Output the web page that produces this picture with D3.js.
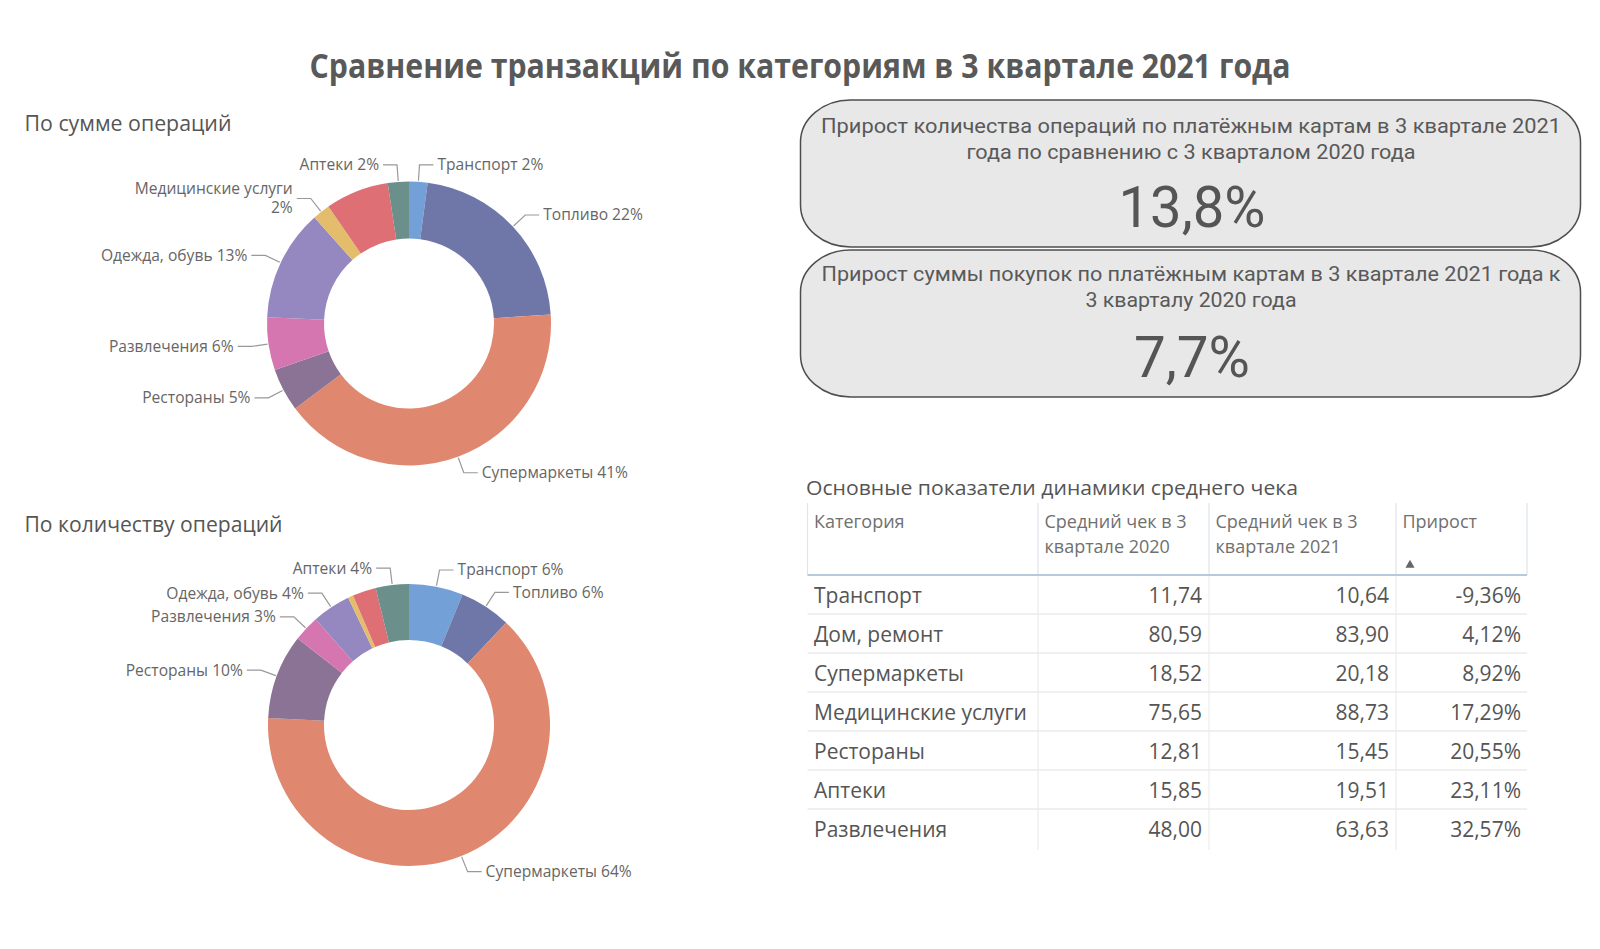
<!DOCTYPE html>
<html>
<head>
<meta charset="utf-8">
<script src="https://cdn.jsdelivr.net/npm/d3@7"></script>
<style>
  html, body { margin: 0; padding: 0; background: #fff; }
  svg { display: block; }
</style>
</head>
<body>
<svg id="chart" width="1600" height="949"></svg>
<script>
// ---------------- DATA ----------------
const chartTitle = "Сравнение транзакций по категориям в 3 квартале 2021 года";
const donutTitles = ["По сумме операций", "По количеству операций"];

const categories = ["Транспорт", "Топливо", "Супермаркеты", "Рестораны", "Развлечения",
                    "Одежда, обувь", "Медицинские услуги", "Дом, ремонт", "Аптеки"];
const sumShare   = [2.1, 21.9, 40.8, 4.9, 6.0, 12.7, 2.0, 7.2, 2.4];
const countShare = [6.2, 5.9, 63.7, 9.7, 3.0, 4.4, 0.6, 2.7, 3.8];
const sumLabelShown   = [true, true, true, true, true, true, true, false, true];
const countLabelShown = [true, true, true, true, true, true, false, false, true];
const categoryColors = ["#72a0d7", "#6f77a8", "#df886f", "#8a7394", "#d676b0",
                        "#9587bf", "#e3bd6c", "#dd6f75", "#6b8f8b"];

const kpiTitles = [
  ["Прирост количества операций по платёжным картам в 3 квартале 2021", "года по сравнению с 3 кварталом 2020 года"],
  ["Прирост суммы покупок по платёжным картам в 3 квартале 2021 года к", "3 кварталу 2020 года"]
];
const kpiValues = [13.8, 7.7];

const tableTitle = "Основные показатели динамики среднего чека";
const tableHeaders = [["Категория"], ["Средний чек в 3", "квартале 2020"], ["Средний чек в 3", "квартале 2021"], ["Прирост"]];
const tableCategories = ["Транспорт", "Дом, ремонт", "Супермаркеты", "Медицинские услуги", "Рестораны", "Аптеки", "Развлечения"];
const avgCheck2020 = [11.74, 80.59, 18.52, 75.65, 12.81, 15.85, 48.00];
const avgCheck2021 = [10.64, 83.90, 20.18, 88.73, 15.45, 19.51, 63.63];
const avgGrowth    = [-9.36, 4.12, 8.92, 17.29, 20.55, 23.11, 32.57];

// ---------------- HELPERS ----------------
const svg = d3.select("#chart");
const comma = (v, n) => v.toFixed(n).replace(".", ",");
function fit(sel, w) { sel.attr("textLength", w).attr("lengthAdjust", "spacingAndGlyphs"); return sel; }

svg.append("rect").attr("width", 1600).attr("height", 949).attr("fill", "#fff");

// ---------------- TITLE ----------------
fit(svg.append("text")
  .attr("x", 800).attr("y", 78)
  .attr("text-anchor", "middle")
  .attr("font-family", "Open Sans").attr("font-weight", 700).attr("font-size", 34)
  .attr("fill", "#595959")
  .text(chartTitle), 981);

// ---------------- DONUTS ----------------
const donuts = [
  { title: donutTitles[0], values: sumShare, shown: sumLabelShown, cx: 409, cy: 323.5, R: 142, r: 85, ty: 131, tw: 207 },
  { title: donutTitles[1], values: countShare, shown: countLabelShown, cx: 409, cy: 725, R: 141, r: 85, ty: 532, tw: 258 }
];

donuts.forEach(dn => {
  fit(svg.append("text")
    .attr("x", 24.5).attr("y", dn.ty)
    .attr("font-family", "Open Sans").attr("font-size", 21)
    .attr("fill", "#555")
    .text(dn.title), dn.tw);

  const data = categories.map((c, i) => ({ name: c, v: dn.values[i], color: categoryColors[i], shown: dn.shown[i] }));
  const total = d3.sum(data, d => d.v);
  const pie = d3.pie().sort(null).value(d => d.v);
  const arc = d3.arc().innerRadius(dn.r).outerRadius(dn.R);
  const arcs = pie(data);
  const g = svg.append("g").attr("transform", `translate(${dn.cx},${dn.cy})`);

  g.selectAll("path.slice").data(arcs).join("path")
    .attr("class", "slice")
    .attr("d", arc)
    .attr("fill", d => d.data.color);

  const labelled = arcs.filter(d => d.data.shown);
  labelled.forEach(d => {
    const a = (d.startAngle + d.endAngle) / 2;
    const sx = Math.sin(a), sy = -Math.cos(a);
    const p0 = [sx * (dn.R + 1), sy * (dn.R + 1)];
    const p1 = [sx * (dn.R + 17), sy * (dn.R + 17)];
    const side = sx >= 0 ? 1 : -1;
    const p2 = [p1[0] + side * 14, p1[1]];
    g.append("polyline")
      .attr("points", [p0, p1, p2].map(p => p.join(",")).join(" "))
      .attr("fill", "none").attr("stroke", "#999").attr("stroke-width", 1.2);
    const pct = Math.round(d.data.v / total * 100) + "%";
    const full = d.data.name + " " + pct;
    const t = g.append("text")
      .attr("x", p2[0] + side * 4).attr("y", p2[1])
      .attr("dy", "0.35em")
      .attr("text-anchor", side > 0 ? "start" : "end")
      .attr("font-family", "Open Sans").attr("font-size", 15.6)
      .attr("fill", "#666")
      .text(full);
    if (t.node().getComputedTextLength() > 170) {
      t.text(null);
      t.attr("dy", null);
      t.append("tspan").attr("x", p2[0] + side * 4).attr("y", p2[1] - 9.5).attr("dy", "0.35em").text(d.data.name);
      t.append("tspan").attr("x", p2[0] + side * 4).attr("y", p2[1] + 9.5).attr("dy", "0.35em").text(pct);
    }
  });
});

// ---------------- KPI CARDS ----------------
const cards = [
  { y: 100, h: 147, lines: [133, 159], vy: 227, lw: [740, 449], vw: 147 },
  { y: 250, h: 147, lines: [281, 307], vy: 377, lw: [739, 211], vw: 116 }
];
cards.forEach((c, i) => {
  svg.append("rect")
    .attr("x", 800.5).attr("y", c.y).attr("width", 780).attr("height", c.h)
    .attr("rx", 50).attr("ry", 42)
    .attr("fill", "#e8e8e8").attr("stroke", "#4d4d4d").attr("stroke-width", 1.5);
  kpiTitles[i].forEach((ln, j) => {
    fit(svg.append("text")
      .attr("x", 1191).attr("y", c.lines[j])
      .attr("text-anchor", "middle")
      .attr("font-family", "Roboto").attr("font-size", 20)
      .attr("fill", "#595959")
      .text(ln), c.lw[j]);
  });
  fit(svg.append("text")
    .attr("x", 1192).attr("y", c.vy)
    .attr("text-anchor", "middle")
    .attr("font-family", "Roboto").attr("font-size", 58)
    .attr("fill", "#555")
    .text(comma(kpiValues[i], 1) + "%"), c.vw);
});

// ---------------- TABLE ----------------
fit(svg.append("text")
  .attr("x", 806).attr("y", 495)
  .attr("font-family", "Open Sans").attr("font-size", 20)
  .attr("fill", "#555")
  .text(tableTitle), 492);

const colX = [807.5, 1038, 1209, 1396, 1527];
const headTop = 503, headBottom = 575, rowH = 39, firstBase = 603;
const tg = svg.append("g");

// header vertical lines
colX.forEach(x => {
  tg.append("line").attr("x1", x).attr("x2", x).attr("y1", headTop).attr("y2", headBottom)
    .attr("stroke", "#dde4ec").attr("stroke-width", 1.2);
});
// row vertical lines
colX.slice(1, 4).forEach(x => {
  tg.append("line").attr("x1", x).attr("x2", x).attr("y1", headBottom).attr("y2", headBottom + rowH * tableCategories.length + 2)
    .attr("stroke", "#ececec").attr("stroke-width", 1.2);
});
// header texts
tableHeaders.forEach((hd, i) => {
  const t = tg.append("text")
    .attr("font-family", "Open Sans").attr("font-size", 18).attr("fill", "#707070");
  hd.forEach((ln, j) => {
    t.append("tspan").attr("x", colX[i] + 6.5).attr("y", 528 + j * 25).text(ln);
  });
});
// sort arrow
tg.append("path")
  .attr("d", d3.symbol().type(d3.symbolTriangle).size(36)())
  .attr("transform", `translate(${colX[3] + 14},${565})`)
  .attr("fill", "#666");
// header bottom line
tg.append("line").attr("x1", colX[0]).attr("x2", colX[4]).attr("y1", headBottom).attr("y2", headBottom)
  .attr("stroke", "#b8c9da").attr("stroke-width", 2);

// rows
tableCategories.forEach((cat, i) => {
  const base = firstBase + i * rowH;
  if (i < tableCategories.length - 1) {
    tg.append("line").attr("x1", colX[0]).attr("x2", colX[4])
      .attr("y1", base + 11).attr("y2", base + 11)
      .attr("stroke", "#ebebeb").attr("stroke-width", 1.5);
  }
  const cells = [
    { text: cat, x: colX[0] + 6.5, anchor: "start" },
    { text: comma(avgCheck2020[i], 2), x: colX[2] - 7, anchor: "end" },
    { text: comma(avgCheck2021[i], 2), x: colX[3] - 7, anchor: "end" },
    { text: comma(avgGrowth[i], 2) + "%", x: colX[4] - 6, anchor: "end" }
  ];
  cells.forEach(c => {
    tg.append("text")
      .attr("x", c.x).attr("y", base)
      .attr("text-anchor", c.anchor)
      .attr("font-family", "Open Sans").attr("font-size", 21)
      .attr("fill", "#555")
      .text(c.text);
  });
});
</script>
</body>
</html>
